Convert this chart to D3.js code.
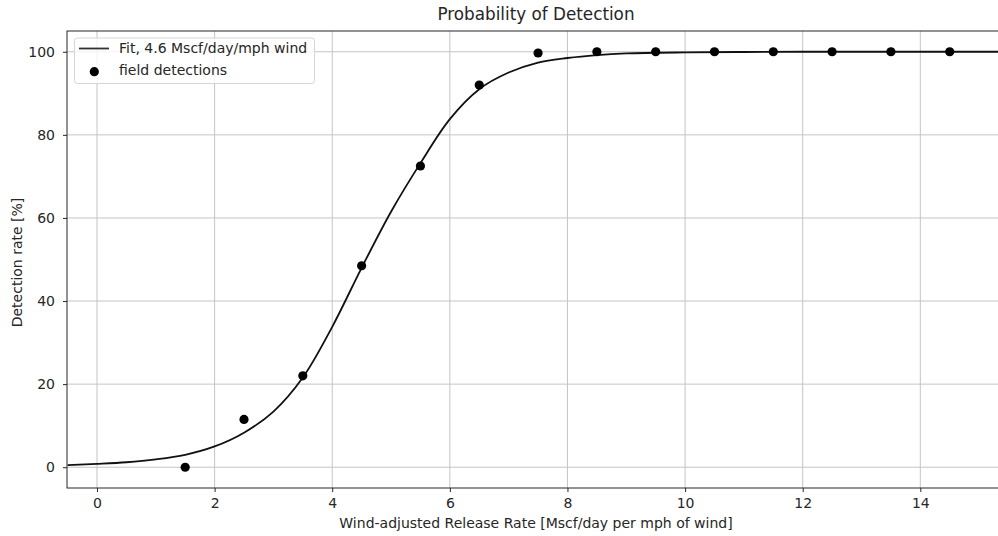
<!DOCTYPE html>
<html>
<head>
<meta charset="utf-8">
<script src="https://cdn.jsdelivr.net/npm/d3@7"></script>
<style>
  body { margin: 0; background: #fff; }
  svg { display: block; font-family: "DejaVu Sans", sans-serif; }
</style>
</head>
<body>
<script>
// field detections
var detX = [1.5, 2.5, 3.5, 4.5, 5.5, 6.5, 7.5, 8.5, 9.5, 10.5, 11.5, 12.5, 13.5, 14.5];
var detY = [0, 11.5, 22, 48.5, 72.5, 92, 99.7, 100, 100, 100, 100, 100, 100, 100];

// fit curve
var fitX = [-0.5, 0, 0.5, 1, 1.5, 2, 2.5, 3, 3.5, 4, 4.5, 5, 5.5, 6, 6.5, 7, 7.5, 8, 8.5, 9, 10, 11, 12, 13, 14, 15.5];
var fitY = [0.5, 0.8, 1.2, 1.9, 3.0, 5.0, 8.3, 13.4, 21.6, 33.8, 48, 61.5, 73.2, 83.8, 91, 95, 97.4, 98.5, 99.2, 99.6, 99.85, 99.95, 100, 100, 100, 100];

var xTicks = [0, 2, 4, 6, 8, 10, 12, 14];
var yTicks = [0, 20, 40, 60, 80, 100];

var W = 998, H = 536;
var margin = { top: 31, right: -7, bottom: 48, left: 67 };
var width = W - margin.left - margin.right,
    height = H - margin.top - margin.bottom;

var svg = d3.select("body").append("svg")
    .attr("width", W)
    .attr("height", H);

var x = d3.scaleLinear().domain([-0.51, 15.44]).range([margin.left, margin.left + width]);
var y = d3.scaleLinear().domain([-5, 105]).range([margin.top + height, margin.top]);

// grid
svg.append("g")
    .selectAll("line")
    .data(xTicks)
    .join("line")
    .attr("x1", d => x(d)).attr("x2", d => x(d))
    .attr("y1", margin.top).attr("y2", margin.top + height)
    .attr("stroke", "#c4c4c4").attr("stroke-width", 1);
svg.append("g")
    .selectAll("line")
    .data(yTicks)
    .join("line")
    .attr("x1", margin.left).attr("x2", margin.left + width)
    .attr("y1", d => y(d)).attr("y2", d => y(d))
    .attr("stroke", "#c4c4c4").attr("stroke-width", 1);

// fit line
var pts = fitX.map((d, i) => [d, fitY[i]]);
svg.append("path")
    .datum(pts)
    .attr("fill", "none")
    .attr("stroke", "#111")
    .attr("stroke-width", 1.8)
    .attr("d", d3.line().x(d => x(d[0])).y(d => y(d[1])).curve(d3.curveCatmullRom.alpha(0.5)));

// scatter
svg.append("g")
    .selectAll("circle")
    .data(detX)
    .join("circle")
    .attr("cx", d => x(d))
    .attr("cy", (d, i) => y(detY[i]))
    .attr("r", 4.6)
    .attr("fill", "#000");

// axes
var xAxis = g => g
    .attr("transform", `translate(0,${margin.top + height})`)
    .call(d3.axisBottom(x).tickValues(xTicks).tickSize(4).tickPadding(6).tickSizeOuter(0))
    .call(g => g.select(".domain").remove());
var yAxis = g => g
    .attr("transform", `translate(${margin.left},0)`)
    .call(d3.axisLeft(y).tickValues(yTicks).tickSize(4).tickPadding(8).tickSizeOuter(0))
    .call(g => g.select(".domain").remove());

svg.append("g").call(xAxis);
svg.append("g").call(yAxis);
svg.selectAll(".tick text").attr("font-size", 14).attr("fill", "#262626").attr("font-family", "DejaVu Sans");
svg.selectAll(".tick line").attr("stroke", "#262626");

// frame
svg.append("rect")
    .attr("x", margin.left).attr("y", margin.top)
    .attr("width", width).attr("height", height)
    .attr("fill", "none").attr("stroke", "#262626").attr("stroke-width", 1);

// title and labels
svg.append("text")
    .attr("x", margin.left + width / 2).attr("y", 20)
    .attr("text-anchor", "middle")
    .attr("font-size", 16.8).attr("fill", "#262626")
    .text("Probability of Detection");
svg.append("text")
    .attr("x", margin.left + width / 2).attr("y", 528)
    .attr("text-anchor", "middle")
    .attr("font-size", 14).attr("fill", "#262626")
    .text("Wind-adjusted Release Rate [Mscf/day per mph of wind]");
svg.append("text")
    .attr("transform", `translate(22,${margin.top + height / 2 + 3}) rotate(-90)`)
    .attr("text-anchor", "middle")
    .attr("font-size", 14).attr("fill", "#262626")
    .text("Detection rate [%]");

// legend
var lg = svg.append("g");
lg.append("rect")
    .attr("x", 74.5).attr("y", 38).attr("width", 240).attr("height", 45.5).attr("rx", 3)
    .attr("fill", "#fff").attr("fill-opacity", 0.8)
    .attr("stroke", "#d6d6d6").attr("stroke-width", 1);
lg.append("line")
    .attr("x1", 79).attr("x2", 109).attr("y1", 48.5).attr("y2", 48.5)
    .attr("stroke", "#333").attr("stroke-width", 1.8);
lg.append("circle")
    .attr("cx", 94.3).attr("cy", 71.7).attr("r", 4.6).attr("fill", "#000");
lg.append("text")
    .attr("x", 119).attr("y", 53)
    .attr("font-size", 14).attr("fill", "#262626")
    .text("Fit, 4.6 Mscf/day/mph wind");
lg.append("text")
    .attr("x", 119).attr("y", 75)
    .attr("font-size", 14).attr("fill", "#262626")
    .text("field detections");
</script>
</body>
</html>
